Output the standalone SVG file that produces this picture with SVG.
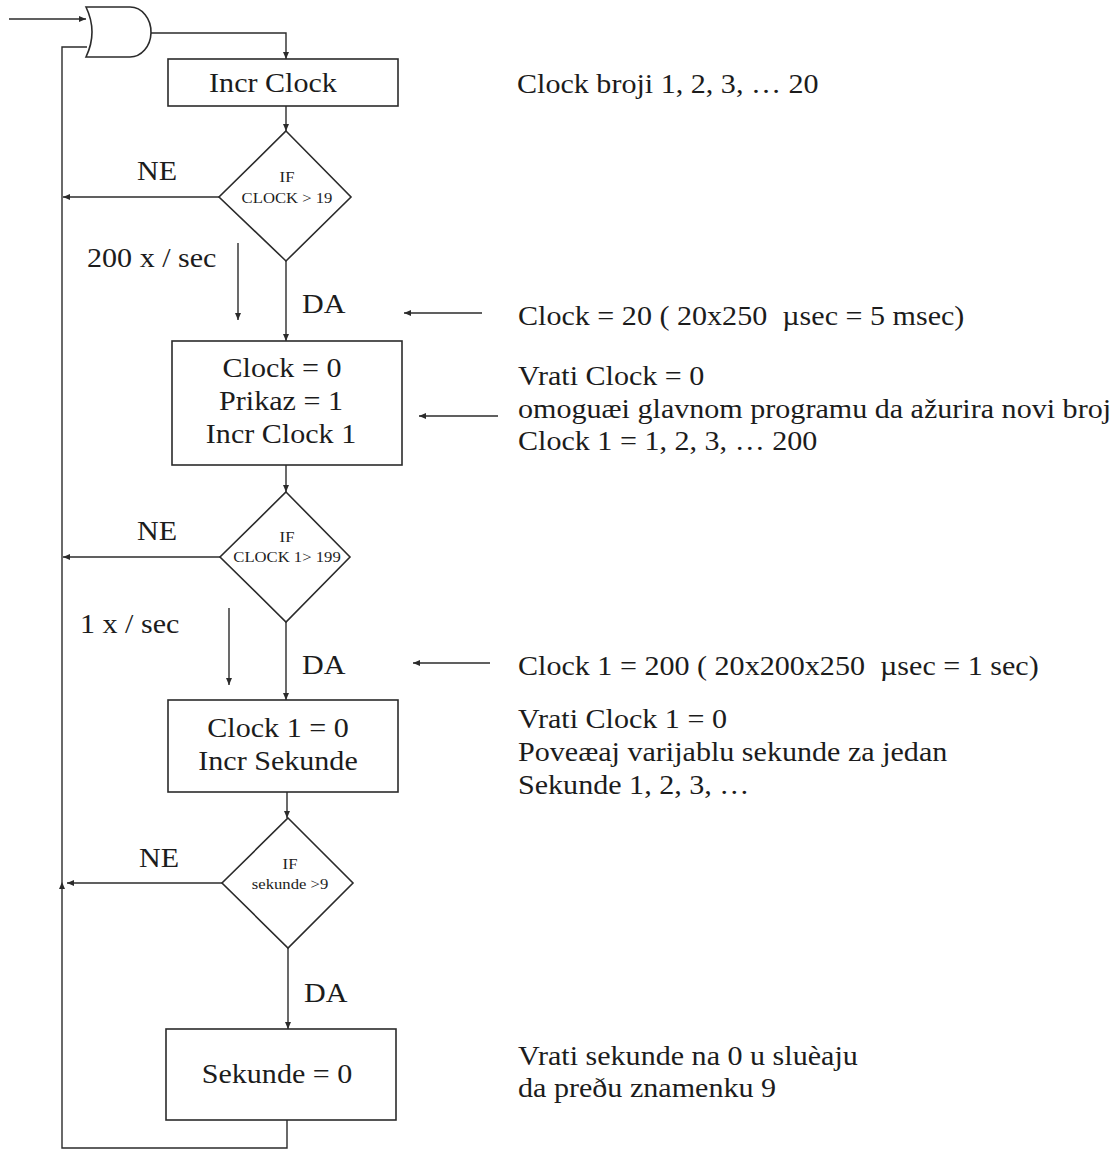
<svg xmlns="http://www.w3.org/2000/svg" width="1119" height="1149" viewBox="0 0 1119 1149">
  <style>
    .ln { fill: none; stroke: #2b2b2b; stroke-width: 1.4; }
    .shape { fill: #ffffff; stroke: #2b2b2b; stroke-width: 1.6; }
    text { font-family: "Liberation Serif", "Times New Roman", serif; fill: #1c1c1c; white-space: pre; }
    .big { font-size: 28px; }
    .small { font-size: 15.5px; }
    .mid { text-anchor: middle; }
  </style>
  <defs>
    <marker id="arrow" markerUnits="userSpaceOnUse" markerWidth="8" markerHeight="6" refX="7" refY="3" orient="auto">
      <path d="M0,0 L7,3 L0,6 z" fill="#2b2b2b"/>
    </marker>
  </defs>

  <rect width="1119" height="1149" fill="#ffffff"/>

  <!-- connectors -->
  <g id="connectors">
    <!-- external input into the gate -->
    <line class="ln" x1="9" y1="19" x2="86" y2="19" marker-end="url(#arrow)"/>
    <!-- gate output down to Incr Clock -->
    <polyline class="ln" points="151,33 286,33 286,59" marker-end="url(#arrow)"/>
    <line class="ln" x1="286" y1="106" x2="286" y2="131" marker-end="url(#arrow)"/>
    <line class="ln" x1="286" y1="261" x2="286" y2="341" marker-end="url(#arrow)"/>
    <line class="ln" x1="286" y1="465" x2="286" y2="492" marker-end="url(#arrow)"/>
    <line class="ln" x1="286" y1="622" x2="286" y2="700" marker-end="url(#arrow)"/>
    <line class="ln" x1="287" y1="792" x2="287" y2="818" marker-end="url(#arrow)"/>
    <line class="ln" x1="288" y1="948" x2="288" y2="1029" marker-end="url(#arrow)"/>
    <!-- NE branches back to the loop line -->
    <line class="ln" x1="219" y1="197" x2="63" y2="197" marker-end="url(#arrow)"/>
    <line class="ln" x1="220" y1="557" x2="63" y2="557" marker-end="url(#arrow)"/>
    <line class="ln" x1="222" y1="883" x2="67" y2="883" marker-end="url(#arrow)"/>
    <!-- return loop into the second gate input -->
    <polyline class="ln" points="287,1120 287,1148 62,1148 62,47 87,47"/>
    <path d="M59,889 L62,882 L65,889 z" fill="#2b2b2b"/>
    <!-- rate indicators -->
    <line class="ln" x1="238" y1="243" x2="238" y2="320" marker-end="url(#arrow)"/>
    <line class="ln" x1="229" y1="608" x2="229" y2="685" marker-end="url(#arrow)"/>
    <!-- pointers from the notes -->
    <line class="ln" x1="482" y1="313" x2="404" y2="313" marker-end="url(#arrow)"/>
    <line class="ln" x1="498" y1="416" x2="419" y2="416" marker-end="url(#arrow)"/>
    <line class="ln" x1="490" y1="663" x2="413" y2="663" marker-end="url(#arrow)"/>
  </g>

  <!-- input gate -->
  <g id="gate">
    <path class="shape" d="M86,7 L130,7 A21,25 0 0 1 151,33 A21,25 0 0 1 130,57 L86,57 Q98,32 86,7 z"/>
  </g>

  <g id="incr-clock">
    <rect class="shape" x="168" y="59" width="230" height="47"/>
    <text class="big mid" transform="translate(273,92) scale(1.075,1)">Incr Clock</text>
  </g>

  <g id="if-clock">
    <polygon class="shape" points="286,131 351,197 286,261 219,197"/>
    <text class="small mid" transform="translate(287,182) scale(1.075,1)">IF</text>
    <text class="small mid" transform="translate(287,203) scale(1.075,1)">CLOCK &gt; 19</text>
  </g>

  <g id="reset-clock">
    <rect class="shape" x="172" y="341" width="230" height="124"/>
    <text class="big mid" transform="translate(282,377) scale(1.075,1)">Clock = 0</text>
    <text class="big mid" transform="translate(281,410) scale(1.075,1)">Prikaz = 1</text>
    <text class="big mid" transform="translate(281,443) scale(1.075,1)">Incr Clock 1</text>
  </g>

  <g id="if-clock1">
    <polygon class="shape" points="286,492 350,557 286,622 220,557"/>
    <text class="small mid" transform="translate(287,542) scale(1.075,1)">IF</text>
    <text class="small mid" transform="translate(287,562) scale(1.075,1)">CLOCK 1&gt; 199</text>
  </g>

  <g id="reset-clock1">
    <rect class="shape" x="168" y="700" width="230" height="92"/>
    <text class="big mid" transform="translate(278,737) scale(1.075,1)">Clock 1 = 0</text>
    <text class="big mid" transform="translate(278,770) scale(1.075,1)">Incr Sekunde</text>
  </g>

  <g id="if-sekunde">
    <polygon class="shape" points="288,818 353,883 288,948 222,883"/>
    <text class="small mid" transform="translate(290,869) scale(1.075,1)">IF</text>
    <text class="small mid" transform="translate(290,889) scale(1.075,1)">sekunde &gt;9</text>
  </g>

  <g id="reset-sekunde">
    <rect class="shape" x="166" y="1029" width="230" height="91"/>
    <text class="big mid" transform="translate(277,1083) scale(1.075,1)">Sekunde = 0</text>
  </g>

  <!-- branch and rate labels -->
  <g id="labels">
    <text class="big mid" transform="translate(157,180) scale(1.075,1)">NE</text>
    <text class="big mid" transform="translate(157,540) scale(1.075,1)">NE</text>
    <text class="big mid" transform="translate(159,867) scale(1.075,1)">NE</text>
    <text class="big" transform="translate(302,313) scale(1.075,1)">DA</text>
    <text class="big" transform="translate(302,674) scale(1.075,1)">DA</text>
    <text class="big" transform="translate(304,1002) scale(1.075,1)">DA</text>
    <text class="big" transform="translate(87,267) scale(1.075,1)">200 x / sec</text>
    <text class="big" transform="translate(80,633) scale(1.075,1)">1 x / sec</text>
  </g>

  <!-- explanatory notes -->
  <g id="notes">
    <text class="big" transform="translate(517,93) scale(1.075,1)">Clock broji 1, 2, 3, … 20</text>
    <text class="big" transform="translate(518,325) scale(1.075,1)">Clock = 20 ( 20x250  µsec = 5 msec)</text>
    <text class="big" transform="translate(518,385) scale(1.075,1)">Vrati Clock = 0</text>
    <text class="big" transform="translate(518,418) scale(1.075,1)">omoguæi glavnom programu da ažurira novi broj</text>
    <text class="big" transform="translate(518,450) scale(1.075,1)">Clock 1 = 1, 2, 3, … 200</text>
    <text class="big" transform="translate(518,675) scale(1.075,1)">Clock 1 = 200 ( 20x200x250  µsec = 1 sec)</text>
    <text class="big" transform="translate(518,728) scale(1.075,1)">Vrati Clock 1 = 0</text>
    <text class="big" transform="translate(518,761) scale(1.075,1)">Poveæaj varijablu sekunde za jedan</text>
    <text class="big" transform="translate(518,794) scale(1.075,1)">Sekunde 1, 2, 3, …</text>
    <text class="big" transform="translate(518,1065) scale(1.075,1)">Vrati sekunde na 0 u sluèaju</text>
    <text class="big" transform="translate(518,1097) scale(1.075,1)">da preðu znamenku 9</text>
  </g>
</svg>
